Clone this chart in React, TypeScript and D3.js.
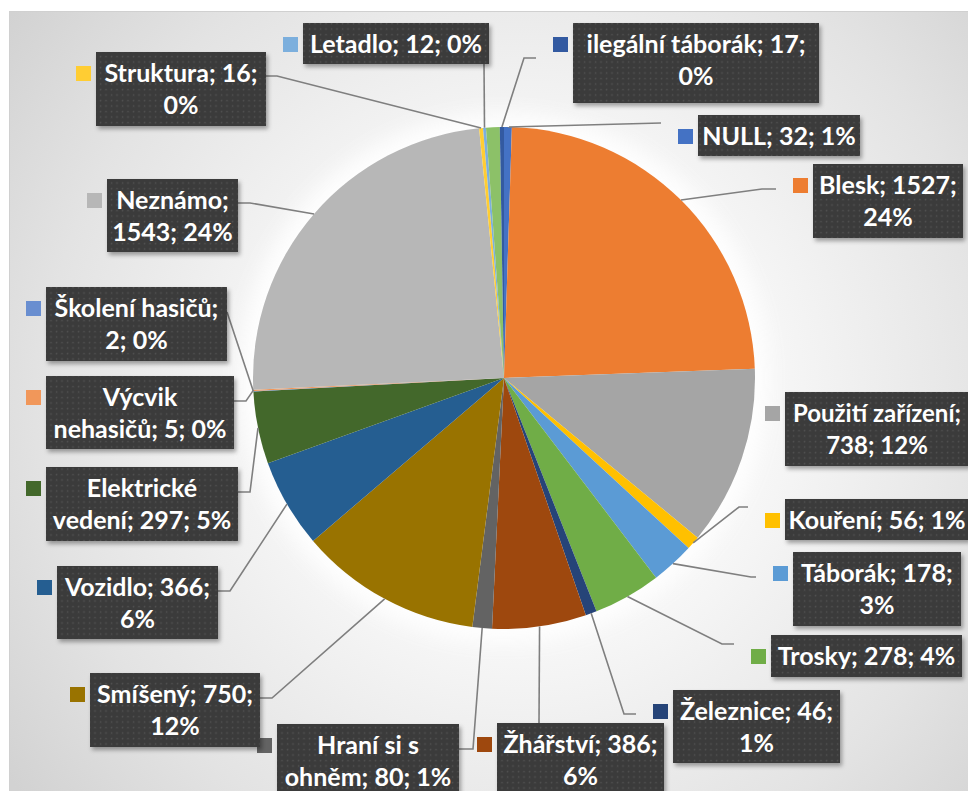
import * as d3 from "d3";

// data (pie starts at 12 o'clock, clockwise)
const categories = [
  "NULL",
  "Blesk",
  "Použití zařízení",
  "Kouření",
  "Táborák",
  "Trosky",
  "Železnice",
  "Žhářství",
  "Hraní si s ohněm",
  "Smíšený",
  "Vozidlo",
  "Elektrické vedení",
  "Školení hasičů",
  "Výcvik nehasičů",
  "Neznámo",
  "Struktura",
  "Letadlo",
  "Ostatní",
  "ilegální táborák",
];
const values = [32, 1527, 738, 56, 178, 278, 46, 386, 80, 750, 366, 297, 2, 5, 1543, 16, 12, 56, 17];
const colors = [
  "#4472C4", "#ED7D31", "#A5A5A5", "#FFC000", "#5B9BD5", "#70AD47",
  "#264478", "#9E480E", "#636363", "#997300", "#255E91", "#43682B",
  "#698ED0", "#F1975A", "#B7B7B7", "#FFCD33", "#7CAFDD", "#8CC168",
  "#335AA1",
];

// label boxes placed by hand like in the original sheet; words on the first line
const labelLayout: Record<number, { x: number; y: number; w: number; h: number; first: number; leader: number[][] }> = {
  0: { x: 698, y: 115, w: 162, h: 41, first: 9, leader: [[661, 123]] },
  1: { x: 813, y: 164, w: 150, h: 74, first: 2, leader: [[776, 189], [762, 189]] },
  2: { x: 785, y: 392, w: 184, h: 74, first: 2, leader: [] },
  3: { x: 785, y: 499, w: 184, h: 41, first: 9, leader: [[748, 507], [739, 507]] },
  4: { x: 793, y: 552, w: 168, h: 74, first: 2, leader: [[756, 577], [751, 577]] },
  5: { x: 771, y: 635, w: 191, h: 42, first: 9, leader: [[734, 644], [722, 644]] },
  6: { x: 673, y: 690, w: 167, h: 73, first: 2, leader: [[636, 714], [624, 714]] },
  7: { x: 497, y: 723, w: 167, h: 80, first: 2, leader: [[539, 723]] },
  8: { x: 277, y: 724, w: 182, h: 80, first: 3, leader: [[459, 749], [473, 749]] },
  9: { x: 90, y: 673, w: 170, h: 74, first: 2, leader: [[260, 698], [272, 698]] },
  10: { x: 57, y: 566, w: 161, h: 73, first: 2, leader: [[218, 591], [230, 591]] },
  11: { x: 46, y: 467, w: 192, h: 74, first: 1, leader: [[238, 492], [250, 492]] },
  12: { x: 46, y: 287, w: 181, h: 74, first: 2, leader: [[227, 312]] },
  13: { x: 46, y: 376, w: 188, h: 73, first: 1, leader: [[234, 401], [246, 401]] },
  14: { x: 107, y: 179, w: 131, h: 73, first: 1, leader: [[238, 203], [250, 203]] },
  15: { x: 96, y: 52, w: 170, h: 74, first: 2, leader: [[266, 76], [277, 76]] },
  16: { x: 303, y: 23, w: 186, h: 41, first: 9, leader: [[484, 64]] },
  18: { x: 573, y: 23, w: 246, h: 80, first: 3, leader: [[536, 58], [524, 58]] },
};

const width = 968;
const height = 791;
const cx = 504;
const cy = 378;
const radius = 251;

export default function App() {
  const total = d3.sum(values);
  const pie = d3.pie<number>().sort(null).value((d) => d);
  const arcs = pie(values);
  const arc = d3.arc<d3.PieArcDatum<number>>().innerRadius(0).outerRadius(radius);
  const line = d3.line();

  return (
    <svg
      width={width}
      height={height}
      style={{ position: "absolute", left: 0, top: 0, fontFamily: "Lato, 'Open Sans', sans-serif" }}
    >
      <defs>
        <radialGradient id="bg" cx={cx + 20} cy={cy + 20} r={640} gradientUnits="userSpaceOnUse">
          <stop offset="0" stopColor="#ffffff" />
          <stop offset="0.4" stopColor="#f6f6f6" />
          <stop offset="0.75" stopColor="#e3e3e3" />
          <stop offset="1" stopColor="#d2d2d2" />
        </radialGradient>
        <pattern id="dots" width={5.5} height={5.5} patternUnits="userSpaceOnUse">
          <rect width={5.5} height={5.5} fill="#3b3b3b" />
          <circle cx={1.5} cy={1.5} r={0.8} fill="#525252" />
        </pattern>
        <filter id="shadow" x="-10%" y="-10%" width="130%" height="140%">
          <feDropShadow dx={2} dy={3} stdDeviation={2} floodColor="#000" floodOpacity={0.35} />
        </filter>
        <filter id="glow" x="-20%" y="-20%" width="140%" height="140%">
          <feGaussianBlur stdDeviation={10} />
        </filter>
      </defs>

      <rect x={0} y={0} width={width} height={height} fill="#ffffff" />
      <rect x={9.5} y={11.5} width={width + 20} height={height + 20} fill="url(#bg)" stroke="#d0d0d0" />

      <circle cx={cx} cy={cy} r={radius + 14} fill="#ffffff" opacity={0.9} filter="url(#glow)" />

      <g transform={`translate(${cx},${cy})`}>
        {arcs.map((a, i) => (
          <path key={categories[i]} d={arc(a) || ""} fill={colors[i]} />
        ))}
      </g>

      {arcs.map((a, i) => {
        const lay = labelLayout[i];
        if (!lay || lay.leader.length === 0) return null;
        const mid = (a.startAngle + a.endAngle) / 2;
        const end: [number, number] = [cx + radius * Math.sin(mid), cy - radius * Math.cos(mid)];
        const pts = [...lay.leader.map((p) => [p[0], p[1]] as [number, number]), end];
        return (
          <path key={"l" + i} d={line(pts) || ""} fill="none" stroke="#7f7f7f" strokeWidth={1.6} />
        );
      })}

      {arcs.map((a, i) => {
        const lay = labelLayout[i];
        if (!lay) return null;
        const pct = Math.round((values[i] / total) * 100) + "%";
        const words = `${categories[i]}; ${values[i]}; ${pct}`.split(" ");
        const lines =
          lay.first >= words.length
            ? [words.join(" ")]
            : [words.slice(0, lay.first).join(" "), words.slice(lay.first).join(" ")];
        return (
          <g key={"t" + i}>
            <rect x={lay.x - 20} y={lay.y + 14} width={15} height={15} fill={colors[i]} />
            <rect x={lay.x} y={lay.y} width={lay.w} height={lay.h} fill="url(#dots)" filter="url(#shadow)" />
            {lines.map((t, k) => (
              <text
                key={k}
                x={lay.x + lay.w / 2}
                y={lay.y + 30 + k * 31.5}
                textAnchor="middle"
                fill="#ffffff"
                fontWeight="bold"
                fontSize={i === 2 ? 24 : 25}
              >
                {t}
              </text>
            ))}
          </g>
        );
      })}
    </svg>
  );
}
